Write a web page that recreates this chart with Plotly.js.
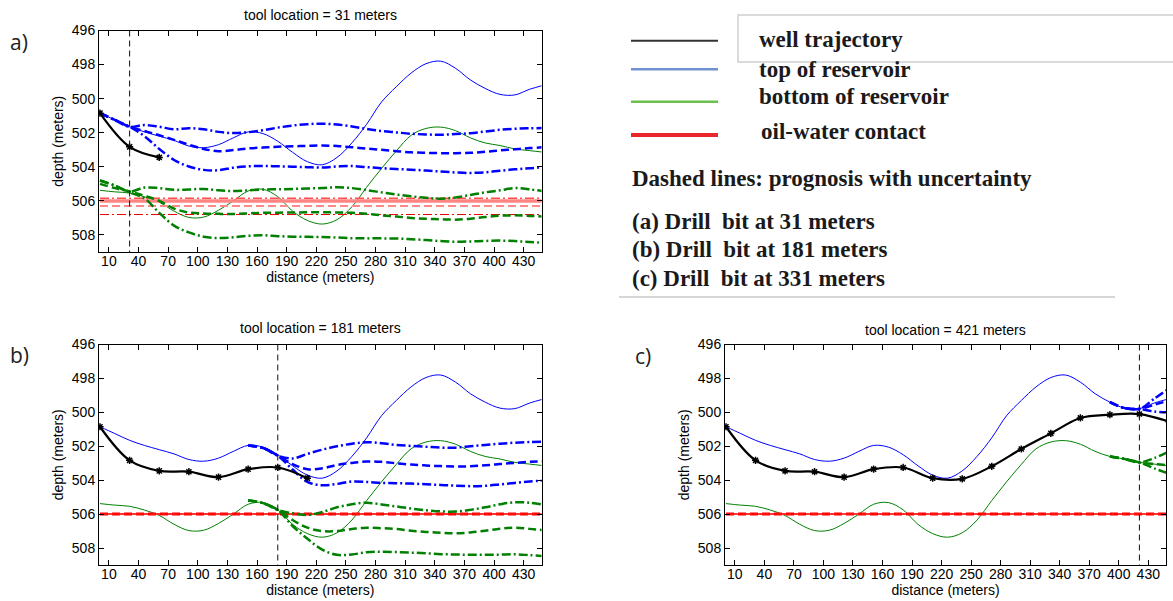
<!DOCTYPE html>
<html><head><meta charset="utf-8">
<script src="https://cdn.plot.ly/plotly-3.0.1.min.js"></script>
<style>html,body{margin:0;padding:0;background:#fff}#chart{width:1173px;height:601px}</style>
</head><body><div id="chart"></div>
<script>
// ---------------- data ----------------
const distance = [1,16,31,46,61,76,91,106,121,136,151,166,181,196,211,226,241,256,271,286,301,316,331,346,361,376,391,406,421,436,451];
const topOfReservoir = [500.85,501.25,501.65,501.95,502.2,502.45,502.78,502.88,502.7,502.3,501.95,502.05,502.5,503.15,503.7,503.88,503.45,502.6,501.5,500.2,499.3,498.5,497.95,497.8,498.22,498.9,499.4,499.75,499.78,499.45,499.2];
const bottomOfReservoir = [505.38,505.47,505.54,505.76,506.08,506.6,506.97,506.95,506.55,506.0,505.42,505.32,505.75,506.6,507.15,507.36,507.1,506.35,505.2,504.1,503.07,502.15,501.75,501.67,501.88,502.3,502.6,502.75,502.95,503.05,503.15];
const trajectoryDistance = [1,31,61,91,121,151,181,211,241,271,301,331,361,391,421,451];
const trajectoryDepth = [500.85,502.83,503.45,503.5,503.82,503.35,503.25,503.88,503.92,503.18,502.16,501.24,500.33,500.14,500.1,500.55];
const toolLocations = [31,181,421];
const owcTrue = 506;
const xTickVals = [10,40,70,100,130,160,190,220,250,280,310,340,370,400,430];
const yTickVals = [496,498,500,502,504,506,508];

// prognosis, panel (a): start at distance 1
const progA_top_upper = [500.85,501.25,501.65,501.55,501.65,501.8,501.73,501.8,501.95,502.02,501.97,501.85,501.7,501.58,501.5,501.47,501.52,501.63,501.78,501.9,501.98,502.06,502.1,502.12,502.08,502.03,501.93,501.83,501.77,501.74,501.72];
const progA_top_mean  = [500.85,501.25,501.65,501.9,502.15,502.42,502.7,502.95,503.08,503.02,502.92,502.87,502.82,502.8,502.77,502.75,502.78,502.85,502.93,503.0,503.08,503.15,503.18,503.2,503.2,503.18,503.12,503.04,502.97,502.9,502.85];
const progA_top_lower = [500.85,501.25,501.65,502.2,502.95,503.6,503.98,504.18,504.2,504.05,503.97,503.95,503.97,503.99,504.02,504.04,503.98,503.95,504.02,504.08,504.13,504.17,504.22,504.28,504.33,504.36,504.32,504.23,504.15,504.08,504.03];
const progA_bot_upper = [504.8,505.1,505.45,505.22,505.25,505.35,505.33,505.3,505.38,505.42,505.38,505.33,505.32,505.3,505.27,505.25,505.2,505.25,505.37,505.5,505.63,505.73,505.82,505.87,505.8,505.65,505.5,505.38,505.25,505.32,505.45];
const progA_bot_mean  = [505.0,505.25,505.45,505.7,506.0,506.45,506.68,506.74,506.76,506.77,506.74,506.7,506.69,506.68,506.67,506.67,506.68,506.7,506.75,506.85,506.92,507.0,507.05,507.08,507.1,507.05,506.95,506.87,506.85,506.88,506.92];
const progA_bot_lower = [504.8,505.1,505.5,505.85,506.7,507.45,507.85,508.1,508.18,508.14,508.05,508.02,508.07,508.1,508.11,508.12,508.15,508.19,508.2,508.2,508.21,508.25,508.3,508.36,508.4,508.38,508.35,508.33,508.36,508.41,508.46];
const progA_owc = [505.85,506.3,506.8];   // upper, mean, lower

// prognosis, panel (b): start at distance 151
const progB_top_upper = [501.95,502.1,502.55,502.72,502.45,502.2,502.0,501.85,501.76,501.82,501.92,501.98,502.03,502.08,502.08,502.0,501.92,501.85,501.79,501.75,501.72];
const progB_top_mean  = [501.95,502.1,502.55,503.05,503.35,503.3,503.1,502.98,502.9,502.92,503.0,503.08,503.13,503.17,503.19,503.18,503.12,503.05,502.98,502.92,502.87];
const progB_top_lower = [501.95,502.1,502.55,503.37,504.1,504.3,504.22,504.08,504.1,504.16,504.18,504.2,504.24,504.28,504.32,504.35,504.33,504.25,504.16,504.08,504.02];
const progB_bot_upper = [505.2,505.35,505.75,505.95,506.05,505.88,505.6,505.42,505.33,505.43,505.55,505.67,505.77,505.84,505.85,505.75,505.6,505.42,505.3,505.33,505.45];
const progB_bot_mean  = [505.2,505.35,505.75,506.35,506.8,507.0,507.0,506.88,506.8,506.83,506.88,506.98,507.05,507.1,507.13,507.08,506.98,506.86,506.8,506.87,506.95];
const progB_bot_lower = [505.2,505.35,505.75,506.7,507.45,508.1,508.4,508.38,508.25,508.22,508.24,508.27,508.31,508.36,508.38,508.4,508.4,508.39,508.37,508.42,508.48];
const progB_owc = [506,506,506];

// prognosis, panel (c): start at distance 391
const progC_top_upper = [499.4,499.75,499.8,499.2,498.6];
const progC_top_mean  = [499.4,499.75,499.8,499.55,499.3];
const progC_top_lower = [499.4,499.75,499.8,499.95,500.0];
const progC_bot_upper = [502.6,502.75,502.95,502.7,502.3];
const progC_bot_mean  = [502.6,502.75,502.95,503.05,503.12];
const progC_bot_lower = [502.6,502.75,502.95,503.3,503.62];
const progC_owc = [506,506,506];

const panelStart = [1,151,391];
const panelTitles = ['tool location = 31 meters','tool location = 181 meters','tool location = 421 meters'];
const panelLetters = ['a)','b)','c)'];
const legendLabels = ['well trajectory','top of reservoir','bottom of reservoir','oil-water contact'];
const noteLines = ['Dashed lines: prognosis with uncertainty','(a) Drill\u00a0 bit at 31 meters','(b) Drill\u00a0 bit at 181 meters','(c) Drill\u00a0 bit at 331 meters'];

// ---------------- layout helpers ----------------
const W = 1173, H = 601;
const fx = p => p / W;
const fy = p => 1 - p / H;
const BLUE = '#0000ff', GREEN = '#008000', RED = '#ff0000';
const DASH = '8px,4px', DASHDOT = '9px,3px,2px,3px';

const progs = [
  {top:[progA_top_upper,progA_top_mean,progA_top_lower], bot:[progA_bot_upper,progA_bot_mean,progA_bot_lower], owc:progA_owc},
  {top:[progB_top_upper,progB_top_mean,progB_top_lower], bot:[progB_bot_upper,progB_bot_mean,progB_bot_lower], owc:progB_owc},
  {top:[progC_top_upper,progC_top_mean,progC_top_lower], bot:[progC_bot_upper,progC_bot_mean,progC_bot_lower], owc:progC_owc}
];

const traces = [];
for (let p = 0; p < 3; p++) {
  const xa = p === 0 ? 'x' : 'x' + (p + 1);
  const ya = p === 0 ? 'y' : 'y' + (p + 1);
  const base = {xaxis: xa, yaxis: ya, mode: 'lines', showlegend: false, hoverinfo: 'skip'};
  const i0 = distance.indexOf(panelStart[p]);
  const px = distance.slice(i0);
  const full = [distance[0], distance[distance.length - 1]];
  // true surfaces
  traces.push(Object.assign({}, base, {x: distance, y: topOfReservoir, line: {color: BLUE, width: 1, shape: 'spline'}}));
  traces.push(Object.assign({}, base, {x: distance, y: bottomOfReservoir, line: {color: GREEN, width: 1, shape: 'spline'}}));
  // oil-water contact
  const ow = progs[p].owc;
  if (p === 0) {
    traces.push(Object.assign({}, base, {x: full, y: [owcTrue, owcTrue], line: {color: '#ff8484', width: 3.5}}));
    traces.push(Object.assign({}, base, {x: full, y: [ow[0], ow[0]], line: {color: '#ff5050', width: 1.5, dash: DASHDOT}}));
    traces.push(Object.assign({}, base, {x: full, y: [ow[1], ow[1]], line: {color: '#ff8a8a', width: 2, dash: DASH}}));
    traces.push(Object.assign({}, base, {x: full, y: [ow[2], ow[2]], line: {color: '#ee0000', width: 1, dash: DASHDOT}}));
  } else {
    traces.push(Object.assign({}, base, {x: full, y: [owcTrue, owcTrue], line: {color: '#ff4040', width: 2}}));
    traces.push(Object.assign({}, base, {x: full, y: [ow[1], ow[1]], line: {color: RED, width: 3, dash: DASH}}));
    traces.push(Object.assign({}, base, {x: full, y: [ow[0], ow[0]], line: {color: '#ff2020', width: 1, dash: DASHDOT}}));
  }
  // prognosis
  const pr = progs[p];
  [[pr.top, BLUE], [pr.bot, GREEN]].forEach(([set, col]) => {
    traces.push(Object.assign({}, base, {x: px, y: set[0], line: {color: col, width: 2.5, dash: DASHDOT, shape: 'spline'}}));
    traces.push(Object.assign({}, base, {x: px, y: set[1], line: {color: col, width: 2.5, dash: DASH, shape: 'spline'}}));
    traces.push(Object.assign({}, base, {x: px, y: set[2], line: {color: col, width: 2.5, dash: DASHDOT, shape: 'spline'}}));
  });
  // well trajectory up to tool + 30 m
  const tx = [], ty = [];
  trajectoryDistance.forEach((d, k) => { if (d <= toolLocations[p] + 30) { tx.push(d); ty.push(trajectoryDepth[k]); } });
  traces.push(Object.assign({}, base, {x: tx, y: ty, mode: 'lines+markers',
    line: {color: '#000', width: 2.2, shape: 'spline'},
    marker: {symbol: 'asterisk-open', size: 6, color: '#000', line: {color: '#000', width: 1.5}}}));
  // tool location
  traces.push(Object.assign({}, base, {x: [toolLocations[p], toolLocations[p]], y: [496, 509], line: {color: '#111', width: 1, dash: '6px,4px'}}));
}

const tickFont = {family: 'Liberation Sans, Arial, Helvetica, sans-serif', size: 14, color: '#000'};
function xAxis(d0, d1) {
  return {domain: [fx(d0), fx(d1)], range: [0, 448], tickvals: xTickVals, ticktext: xTickVals.map(String),
    ticks: 'inside', ticklen: 5, tickcolor: '#000', showline: true, linecolor: '#000', linewidth: 1, mirror: 'ticks',
    showgrid: false, zeroline: false, tickfont: tickFont, fixedrange: true, ticklabelstandoff: -4,
    title: {text: 'distance (meters)', font: tickFont, standoff: 3}};
}
function yAxis(d0, d1, anchor) {
  return {domain: [fy(d1), fy(d0)], range: [509, 496], tickvals: yTickVals, ticktext: yTickVals.map(String),
    ticks: 'inside', ticklen: 5, tickcolor: '#000', showline: true, linecolor: '#000', linewidth: 1, mirror: 'ticks',
    showgrid: false, zeroline: false, tickfont: tickFont, fixedrange: true, anchor: anchor,
    title: {text: 'depth (meters)', font: tickFont, standoff: 4}};
}

const panelBox = [
  {x0: 99, x1: 541.5, y0: 30.5, y1: 252},
  {x0: 99, x1: 541.5, y0: 344.5, y1: 565},
  {x0: 725, x1: 1166, y0: 344.5, y1: 565}
];
const titleY = [15, 328, 330];
const letterPos = [[19, 42], [19.5, 355], [643, 356]];

const annotations = [];
panelBox.forEach((b, i) => {
  annotations.push({xref: 'paper', yref: 'paper', x: fx((b.x0 + b.x1) / 2), y: fy(titleY[i]), xanchor: 'center', yanchor: 'middle',
    text: panelTitles[i], showarrow: false, font: tickFont});
  annotations.push({xref: 'paper', yref: 'paper', x: fx(letterPos[i][0]), y: fy(letterPos[i][1]), xanchor: 'center', yanchor: 'middle',
    text: panelLetters[i], showarrow: false, font: {family: 'Open Sans, sans-serif', size: 21, color: '#222'}});
});
const serif = {family: 'Liberation Serif, Times New Roman, serif', size: 23, color: '#1a1a1a'};
const legY = [40, 69, 97, 131];
const legX = [757, 757, 757, 759];
legendLabels.forEach((t, i) => annotations.push({xref: 'paper', yref: 'paper', x: fx(legX[i]), y: fy(legY[i]), xanchor: 'left', yanchor: 'middle',
  text: '<b>' + t + '</b>', showarrow: false, font: serif}));
const noteY = [179, 221, 249, 278];
noteLines.forEach((t, i) => annotations.push({xref: 'paper', yref: 'paper', x: fx(630), y: fy(noteY[i]), xanchor: 'left', yanchor: 'middle',
  text: '<b>' + t + '</b>', showarrow: false, font: serif}));

const legLineY = [40.7, 69.3, 101.7, 135];
const legLineStyle = [['#333333', 2], ['#7090d4', 2.5], ['#6cc04c', 2.5], ['#e8262b', 4]];
const shapes = legLineY.map((y, i) => ({type: 'line', xref: 'paper', yref: 'paper', x0: fx(631), x1: fx(718), y0: fy(y), y1: fy(y),
  line: {color: legLineStyle[i][0], width: legLineStyle[i][1]}}));
shapes.push({type: 'rect', xref: 'paper', yref: 'paper', x0: fx(738), x1: fx(1185), y0: fy(62), y1: fy(15), line: {color: '#cfcfcf', width: 1.5}});
shapes.push({type: 'line', xref: 'paper', yref: 'paper', x0: fx(619), x1: fx(1115), y0: fy(297), y1: fy(297), line: {color: '#d6d6d6', width: 2}});

const layout = {
  width: W, height: H, margin: {l: 0, r: 0, t: 0, b: 0, pad: 0},
  paper_bgcolor: '#fff', plot_bgcolor: '#fff', showlegend: false,
  xaxis: xAxis(panelBox[0].x0, panelBox[0].x1),
  yaxis: yAxis(panelBox[0].y0, panelBox[0].y1, 'x'),
  xaxis2: Object.assign(xAxis(panelBox[1].x0, panelBox[1].x1), {anchor: 'y2'}),
  yaxis2: yAxis(panelBox[1].y0, panelBox[1].y1, 'x2'),
  xaxis3: Object.assign(xAxis(panelBox[2].x0, panelBox[2].x1), {anchor: 'y3'}),
  yaxis3: yAxis(panelBox[2].y0, panelBox[2].y1, 'x3'),
  annotations: annotations, shapes: shapes
};
layout.xaxis.anchor = 'y';
Plotly.newPlot('chart', traces, layout, {displayModeBar: false, staticPlot: true});
</script></body></html>
